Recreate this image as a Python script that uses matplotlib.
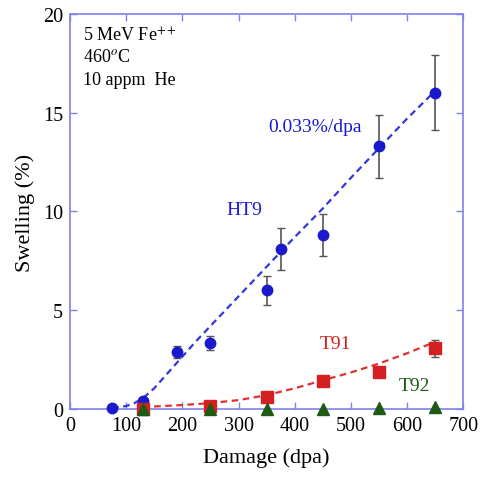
import matplotlib
matplotlib.use("Agg")
import matplotlib.pyplot as plt

# HT9 data
ht9_x = [75, 130, 190, 250, 350, 375, 450, 550, 650]
ht9_y = [0.05, 0.4, 2.9, 3.35, 6.0, 8.1, 8.8, 13.3, 16.0]
ht9_err = [0, 0, 0.3, 0.35, 0.75, 1.05, 1.05, 1.6, 1.9]
ht9_fit_x = [75, 100, 115, 130, 150, 175, 200, 225, 250, 300, 350, 400, 450, 500, 550, 600, 650]
ht9_fit_y = [0.05, 0.15, 0.3, 0.55, 1.05, 1.85, 2.65, 3.45, 4.2, 5.7, 7.2, 8.7, 10.15, 11.7, 13.2, 14.7, 16.1]

# T91 data
t91_x = [130, 250, 350, 450, 550, 650]
t91_y = [0.0, 0.15, 0.62, 1.43, 1.89, 3.07]
t91_err = [0, 0, 0, 0, 0.25, 0.42]
t91_fit_x = [130, 200, 250, 300, 350, 400, 450, 500, 550, 600, 650]
t91_fit_y = [0.1, 0.2, 0.3, 0.45, 0.7, 1.05, 1.45, 1.85, 2.3, 2.82, 3.4]

# T92 data
t92_x = [130, 250, 350, 450, 550, 650]
t92_y = [0.0, 0.0, 0.0, 0.0, 0.05, 0.1]

xticks = [0, 100, 200, 300, 400, 500, 600, 700]
yticks = [0, 5, 10, 15, 20]

plt.rcParams['font.family'] = ['Liberation Serif', 'DejaVu Serif']
plt.rcParams['mathtext.fontset'] = 'stix'

fig = plt.figure(figsize=(4.81, 4.81), dpi=100)
ax = fig.add_axes([0.1455, 0.1476, 0.8175, 0.8214])

blue = '#1a1acc'
red = '#d42020'
green = '#1e5a14'
spine_c = '#8080ee'

ax.plot(ht9_fit_x, ht9_fit_y, ls=(0, (3, 2)), color='#3535dd', lw=1.6, zorder=2)
ax.plot(t91_fit_x, t91_fit_y, ls=(0, (3, 2)), color='#e03030', lw=1.6, zorder=2)

ax.errorbar(ht9_x, ht9_y, yerr=ht9_err, fmt='o', color=blue, ms=7.5, ecolor='#555555',
            elinewidth=1.2, capsize=3, capthick=1.0, zorder=4, clip_on=False)
ax.errorbar(t91_x, t91_y, yerr=t91_err, fmt='s', color=red, ms=8, ecolor='#555555',
            elinewidth=1.2, capsize=3, capthick=1.0, zorder=4, clip_on=False)
ax.plot(t92_x, t92_y, '^', color=green, ms=8.5, zorder=5, clip_on=False)

ax.set_xlim(0, 700)
ax.set_ylim(0, 20)
ax.set_xticks(xticks)
ax.set_yticks(yticks)
ax.tick_params(direction='in', length=5, width=1, color=spine_c, labelsize=14.5,
               top=True, right=True, pad=5)
for s in ax.spines.values():
    s.set_color(spine_c)
    s.set_linewidth(1.2)

ax.set_xlabel('Damage (dpa)', fontsize=16, labelpad=9)
ax.set_ylabel('Swelling (%)', fontsize=16, labelpad=6)

ax.text(23, 18.9, '5 MeV Fe$^{++}$', fontsize=13, va='center', ha='left')
ax.text(23, 17.85, '460$^o$C', fontsize=13, va='center', ha='left')
ax.text(23, 16.7, '10 appm  He', fontsize=13, va='center', ha='left')

ax.text(311, 10.1, 'HT9', fontsize=14, color=blue, ha='center', va='center')
ax.text(437, 14.3, '0.033%/dpa', fontsize=14, color=blue, ha='center', va='center')
ax.text(473, 3.3, 'T91', fontsize=14, color=red, ha='center', va='center')
ax.text(614, 1.2, 'T92', fontsize=14, color=green, ha='center', va='center')

fig.savefig('out.png', dpi=100)
